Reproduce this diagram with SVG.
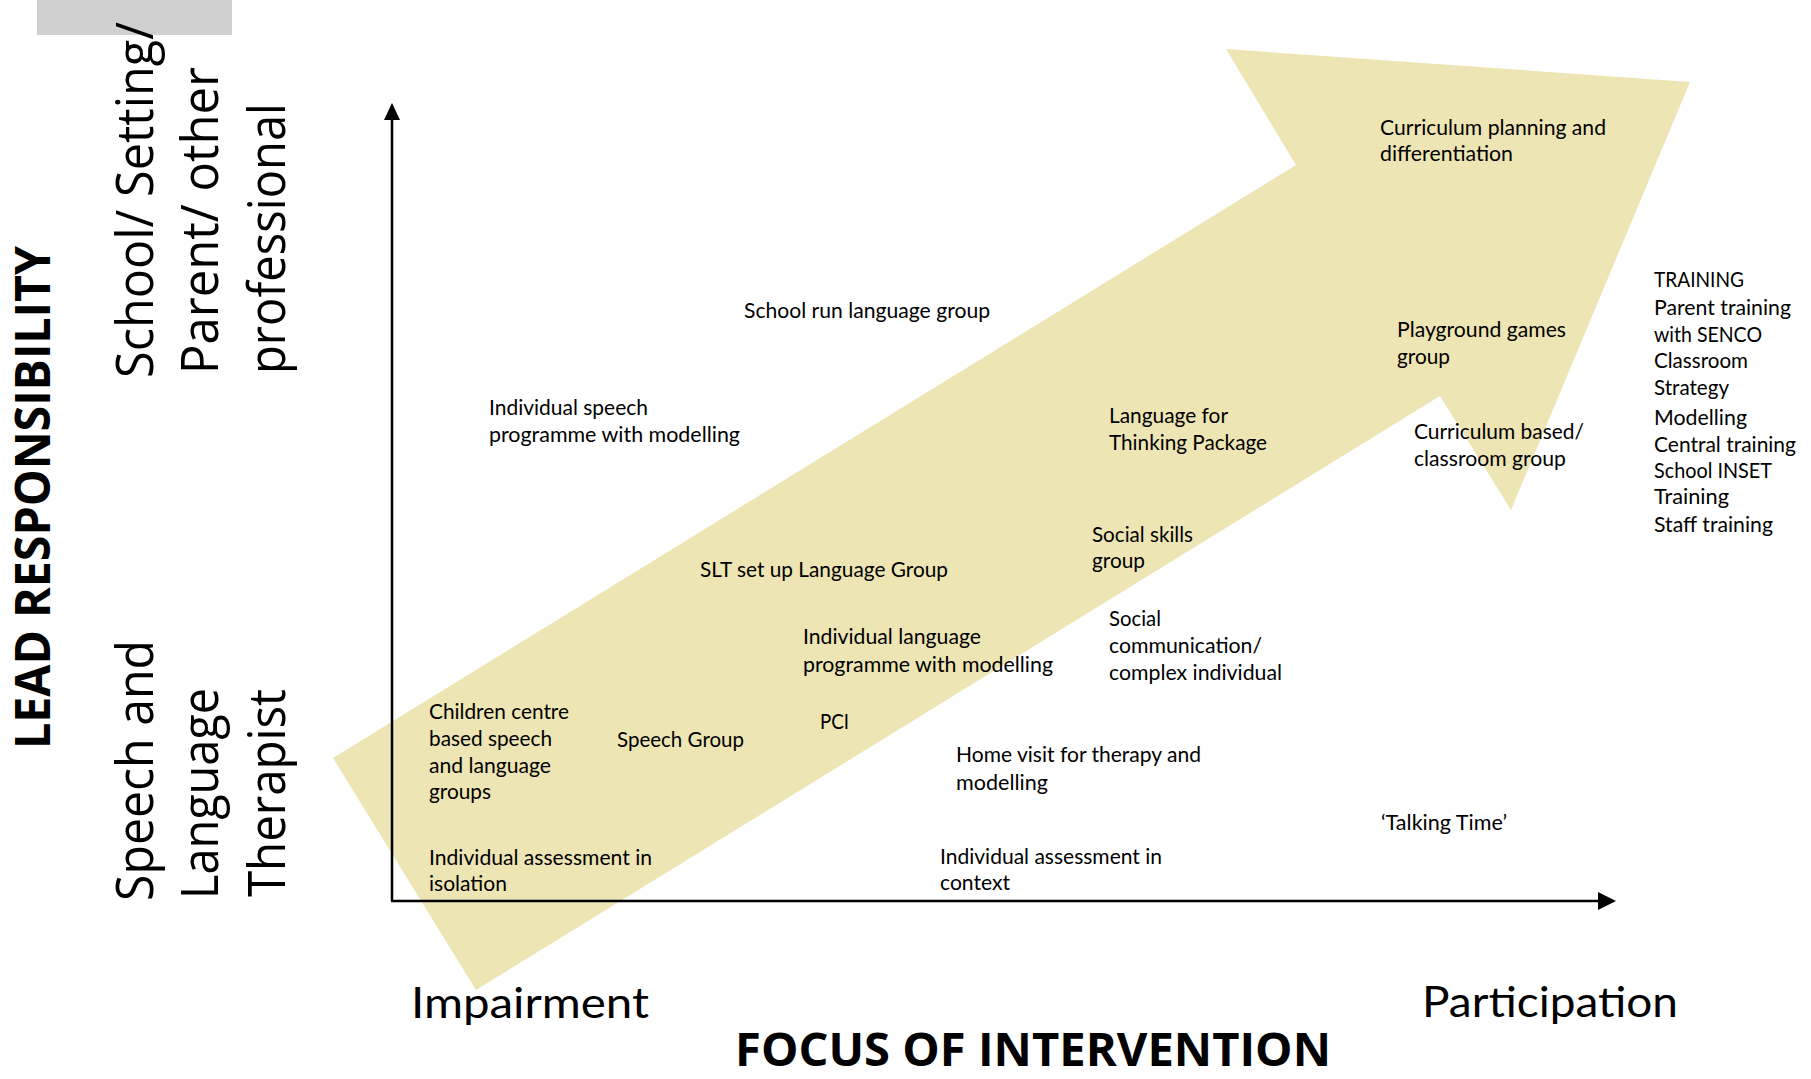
<svg xmlns="http://www.w3.org/2000/svg" width="1811" height="1079" viewBox="0 0 1811 1079">
<style>
.lbl{font-family:Lato,"Liberation Sans",sans-serif;font-size:21px;fill:#000}
.vert{font-family:"Open Sans","Liberation Sans",sans-serif;font-size:52px;fill:#000}
.big{font-family:Lato,"Liberation Sans",sans-serif;font-size:42px;fill:#000}
.bold{font-family:"Open Sans","Liberation Sans",sans-serif;font-weight:bold;fill:#000}
.axis{stroke:#000;stroke-width:2.5;fill:none}
</style>
<rect x="0" y="0" width="1811" height="1079" fill="#fff"/>
<rect id="grey-tab" x="37" y="0" width="195" height="35" fill="#D0D0D0"/>
<polygon id="big-arrow" points="333,758 476,990 1440,396 1511,510 1690,82 1226,49 1296,165" fill="#EDE5B4"/>
<g id="axes">
<line class="axis" x1="392" y1="901" x2="392" y2="115"/>
<polygon points="392,103 384,120 400,120" fill="#000"/>
<line class="axis" x1="391" y1="901" x2="1600" y2="901"/>
<polygon points="1616,901 1598,892 1598,910" fill="#000"/>
</g>
<g id="axis-titles">
<text class="bold" font-size="48" transform="translate(50,749) rotate(-90)" textLength="503" lengthAdjust="spacingAndGlyphs">LEAD RESPONSIBILITY</text>
<text class="bold" font-size="47" x="735" y="1066" textLength="596" lengthAdjust="spacingAndGlyphs">FOCUS OF INTERVENTION</text>
</g>
<g id="y-top-label">
<text class="vert" transform="translate(153,378) rotate(-90)" textLength="356" lengthAdjust="spacingAndGlyphs">School/ Setting/</text>
<text class="vert" transform="translate(218,374) rotate(-90)" textLength="307" lengthAdjust="spacingAndGlyphs">Parent/ other</text>
<text class="vert" transform="translate(285,374) rotate(-90)" textLength="271" lengthAdjust="spacingAndGlyphs">professional</text>
</g>
<g id="y-bottom-label">
<text class="vert" transform="translate(153,901) rotate(-90)" textLength="261" lengthAdjust="spacingAndGlyphs">Speech and</text>
<text class="vert" transform="translate(218,899) rotate(-90)" textLength="211" lengthAdjust="spacingAndGlyphs">Language</text>
<text class="vert" transform="translate(285,897) rotate(-90)" textLength="208" lengthAdjust="spacingAndGlyphs">Therapist</text>
</g>
<g id="x-labels">
<text class="big" x="411" y="1018" textLength="238" lengthAdjust="spacingAndGlyphs">Impairment</text>
<text class="big" x="1422" y="1017" textLength="256" lengthAdjust="spacingAndGlyphs">Participation</text>
</g>
<g id="school-run-language-group"><text class="lbl" x="744" y="318" textLength="246" lengthAdjust="spacingAndGlyphs">School run language group</text></g>
<g id="individual-speech-programme">
<text class="lbl" x="489" y="415" textLength="159" lengthAdjust="spacingAndGlyphs">Individual speech</text>
<text class="lbl" x="489" y="442" textLength="251" lengthAdjust="spacingAndGlyphs">programme with modelling</text>
</g>
<g id="curriculum-planning">
<text class="lbl" x="1380" y="135" textLength="226" lengthAdjust="spacingAndGlyphs">Curriculum planning and</text>
<text class="lbl" x="1380" y="161" textLength="133" lengthAdjust="spacingAndGlyphs">differentiation</text>
</g>
<g id="playground-games">
<text class="lbl" x="1397" y="337" textLength="169" lengthAdjust="spacingAndGlyphs">Playground games</text>
<text class="lbl" x="1397" y="364" textLength="53" lengthAdjust="spacingAndGlyphs">group</text>
</g>
<g id="language-for-thinking">
<text class="lbl" x="1109" y="423" textLength="119" lengthAdjust="spacingAndGlyphs">Language for</text>
<text class="lbl" x="1109" y="450" textLength="158" lengthAdjust="spacingAndGlyphs">Thinking Package</text>
</g>
<g id="curriculum-based">
<text class="lbl" x="1414" y="439" textLength="170" lengthAdjust="spacingAndGlyphs">Curriculum based/</text>
<text class="lbl" x="1414" y="466" textLength="152" lengthAdjust="spacingAndGlyphs">classroom group</text>
</g>
<g id="training">
<text class="lbl" x="1654" y="287" textLength="90" lengthAdjust="spacingAndGlyphs">TRAINING</text>
<text class="lbl" x="1654" y="315" textLength="137" lengthAdjust="spacingAndGlyphs">Parent training</text>
<text class="lbl" x="1654" y="342" textLength="108" lengthAdjust="spacingAndGlyphs">with SENCO</text>
<text class="lbl" x="1654" y="368" textLength="94" lengthAdjust="spacingAndGlyphs">Classroom</text>
<text class="lbl" x="1654" y="395" textLength="75" lengthAdjust="spacingAndGlyphs">Strategy</text>
<text class="lbl" x="1654" y="425" textLength="93" lengthAdjust="spacingAndGlyphs">Modelling</text>
<text class="lbl" x="1654" y="452" textLength="142" lengthAdjust="spacingAndGlyphs">Central training</text>
<text class="lbl" x="1654" y="478" textLength="118" lengthAdjust="spacingAndGlyphs">School INSET</text>
<text class="lbl" x="1654" y="504" textLength="75" lengthAdjust="spacingAndGlyphs">Training</text>
<text class="lbl" x="1654" y="532" textLength="119" lengthAdjust="spacingAndGlyphs">Staff training</text>
</g>
<g id="social-skills-group">
<text class="lbl" x="1092" y="542" textLength="101" lengthAdjust="spacingAndGlyphs">Social skills</text>
<text class="lbl" x="1092" y="568" textLength="53" lengthAdjust="spacingAndGlyphs">group</text>
</g>
<g id="slt-language-group"><text class="lbl" x="700" y="577" textLength="248" lengthAdjust="spacingAndGlyphs">SLT set up Language Group</text></g>
<g id="individual-language-programme">
<text class="lbl" x="803" y="644" textLength="178" lengthAdjust="spacingAndGlyphs">Individual language</text>
<text class="lbl" x="803" y="672" textLength="250" lengthAdjust="spacingAndGlyphs">programme with modelling</text>
</g>
<g id="social-communication">
<text class="lbl" x="1109" y="626" textLength="52" lengthAdjust="spacingAndGlyphs">Social</text>
<text class="lbl" x="1109" y="653" textLength="153" lengthAdjust="spacingAndGlyphs">communication/</text>
<text class="lbl" x="1109" y="680" textLength="173" lengthAdjust="spacingAndGlyphs">complex individual</text>
</g>
<g id="children-centre">
<text class="lbl" x="429" y="719" textLength="140" lengthAdjust="spacingAndGlyphs">Children centre</text>
<text class="lbl" x="429" y="746" textLength="123" lengthAdjust="spacingAndGlyphs">based speech</text>
<text class="lbl" x="429" y="773" textLength="122" lengthAdjust="spacingAndGlyphs">and language</text>
<text class="lbl" x="429" y="799" textLength="62" lengthAdjust="spacingAndGlyphs">groups</text>
</g>
<g id="speech-group"><text class="lbl" x="617" y="747" textLength="127" lengthAdjust="spacingAndGlyphs">Speech Group</text></g>
<g id="pci"><text class="lbl" x="820" y="729" textLength="29" lengthAdjust="spacingAndGlyphs">PCI</text></g>
<g id="home-visit">
<text class="lbl" x="956" y="762" textLength="245" lengthAdjust="spacingAndGlyphs">Home visit for therapy and</text>
<text class="lbl" x="956" y="790" textLength="92" lengthAdjust="spacingAndGlyphs">modelling</text>
</g>
<g id="talking-time"><text class="lbl" x="1381" y="830" textLength="126" lengthAdjust="spacingAndGlyphs">‘Talking Time’</text></g>
<g id="assessment-isolation">
<text class="lbl" x="429" y="865" textLength="223" lengthAdjust="spacingAndGlyphs">Individual assessment in</text>
<text class="lbl" x="429" y="891" textLength="78" lengthAdjust="spacingAndGlyphs">isolation</text>
</g>
<g id="assessment-context">
<text class="lbl" x="940" y="864" textLength="222" lengthAdjust="spacingAndGlyphs">Individual assessment in</text>
<text class="lbl" x="940" y="890" textLength="70" lengthAdjust="spacingAndGlyphs">context</text>
</g>
</svg>
